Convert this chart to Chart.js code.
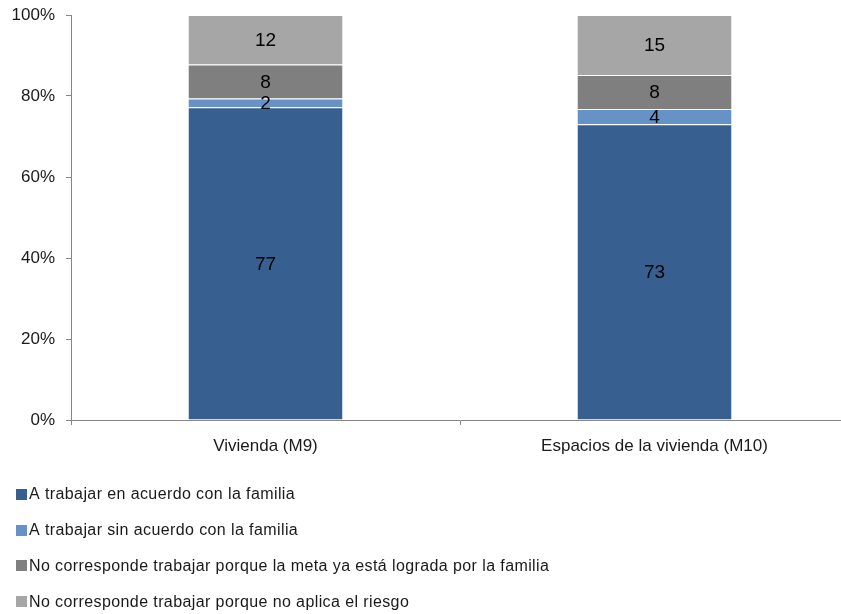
<!DOCTYPE html>
<html><head><meta charset="utf-8">
<script src="https://cdn.jsdelivr.net/npm/chart.js@4/dist/chart.umd.min.js"></script>
<style>html,body{margin:0;padding:0;overflow:hidden;background:#fff}#wrap{width:850px;height:614px}</style>
</head><body><div id="wrap"><canvas id="c" width="850" height="614"></canvas></div>
<script>
const categories = ['Vivienda (M9)', 'Espacios de la vivienda (M10)'];
const seriesNames = [
  'A trabajar en acuerdo con la familia',
  'A trabajar sin acuerdo con la familia',
  'No corresponde trabajar porque la meta ya está lograda por la familia',
  'No corresponde trabajar porque no aplica el riesgo'
];
const acuerdo = [77.2, 73.0];
const sinAcuerdo = [2.2, 3.8];
const metaLograda = [8.4, 8.4];
const noAplica = [12.2, 14.8];
const yTicks = [0, 20, 40, 60, 80, 100];
const seriesColors = ['#376091', '#6792c6', '#7f7f7f', '#a6a6a6'];

const FONT = "'Liberation Sans', Arial, sans-serif";
Chart.defaults.font.family = FONT;
Chart.defaults.color = '#1a1a1a';

const seriesValues = [acuerdo, sinAcuerdo, metaLograda, noAplica];
const datasets = seriesValues.map((vals, i) => ({
  label: seriesNames[i],
  data: vals,
  backgroundColor: seriesColors[i],
  borderColor: 'rgba(255,255,255,0.55)',
  borderWidth: {top: 1, bottom: 0, left: 0, right: 0},
  borderSkipped: false,
  categoryPercentage: 1,
  barPercentage: 0.396
}));

const segLabels = {
  id: 'segLabels',
  afterDatasetsDraw(chart) {
    const ctx = chart.ctx;
    ctx.save();
    ctx.font = '19px ' + FONT;
    ctx.fillStyle = '#000';
    ctx.textAlign = 'center';
    ctx.textBaseline = 'middle';
    chart.data.datasets.forEach((ds, di) => {
      const meta = chart.getDatasetMeta(di);
      meta.data.forEach((el, i) => {
        const v = ds.data[i];
        ctx.fillText(String(Math.round(v)), el.x, (el.y + el.base) / 2 + 1);
      });
    });
    ctx.restore();
  }
};

const vLegend = {
  id: 'vLegend',
  afterDraw(chart) {
    const ctx = chart.ctx;
    const top = chart.chartArea.bottom + 75;
    ctx.save();
    ctx.font = '16px ' + FONT;
    ctx.letterSpacing = '0.4px';
    ctx.textAlign = 'left';
    ctx.textBaseline = 'middle';
    chart.data.datasets.forEach((ds, i) => {
      const y = top + i * 35.7;
      ctx.fillStyle = ds.backgroundColor;
      ctx.fillRect(16, Math.round(y - 6), 11, 11);
      ctx.fillStyle = '#1a1a1a';
      ctx.fillText(ds.label, 29, y);
    });
    ctx.restore();
  }
};

new Chart(document.getElementById('c'), {
  type: 'bar',
  data: {labels: categories, datasets},
  options: {
    responsive: false,
    animation: false,
    devicePixelRatio: 1,
    layout: {padding: {left: 0, top: 15, right: 1, bottom: 144}},
    plugins: {legend: {display: false}, tooltip: {enabled: false}},
    scales: {
      x: {
        stacked: true,
        grid: {offset: true, drawOnChartArea: false, drawTicks: true, tickLength: 5, color: '#868686'},
        border: {color: '#868686', width: 1},
        ticks: {padding: 11, font: {size: 17}, color: '#1a1a1a'},
        afterFit(s) { s.height = 50; s.paddingLeft = 0; s.paddingRight = 0; }
      },
      y: {
        stacked: true,
        min: 0, max: 100,
        afterBuildTicks(s) { s.ticks = yTicks.map(v => ({value: v})); },
        grid: {drawOnChartArea: false, drawTicks: true, tickLength: 5, color: '#868686'},
        border: {color: '#868686', width: 1},
        ticks: {padding: 11, font: {size: 17}, color: '#1a1a1a', callback: v => v + '%'},
        afterFit(s) { s.width = 71; s.paddingTop = 0; s.paddingBottom = 0; }
      }
    }
  },
  plugins: [segLabels, vLegend]
});
</script>
</body></html>
